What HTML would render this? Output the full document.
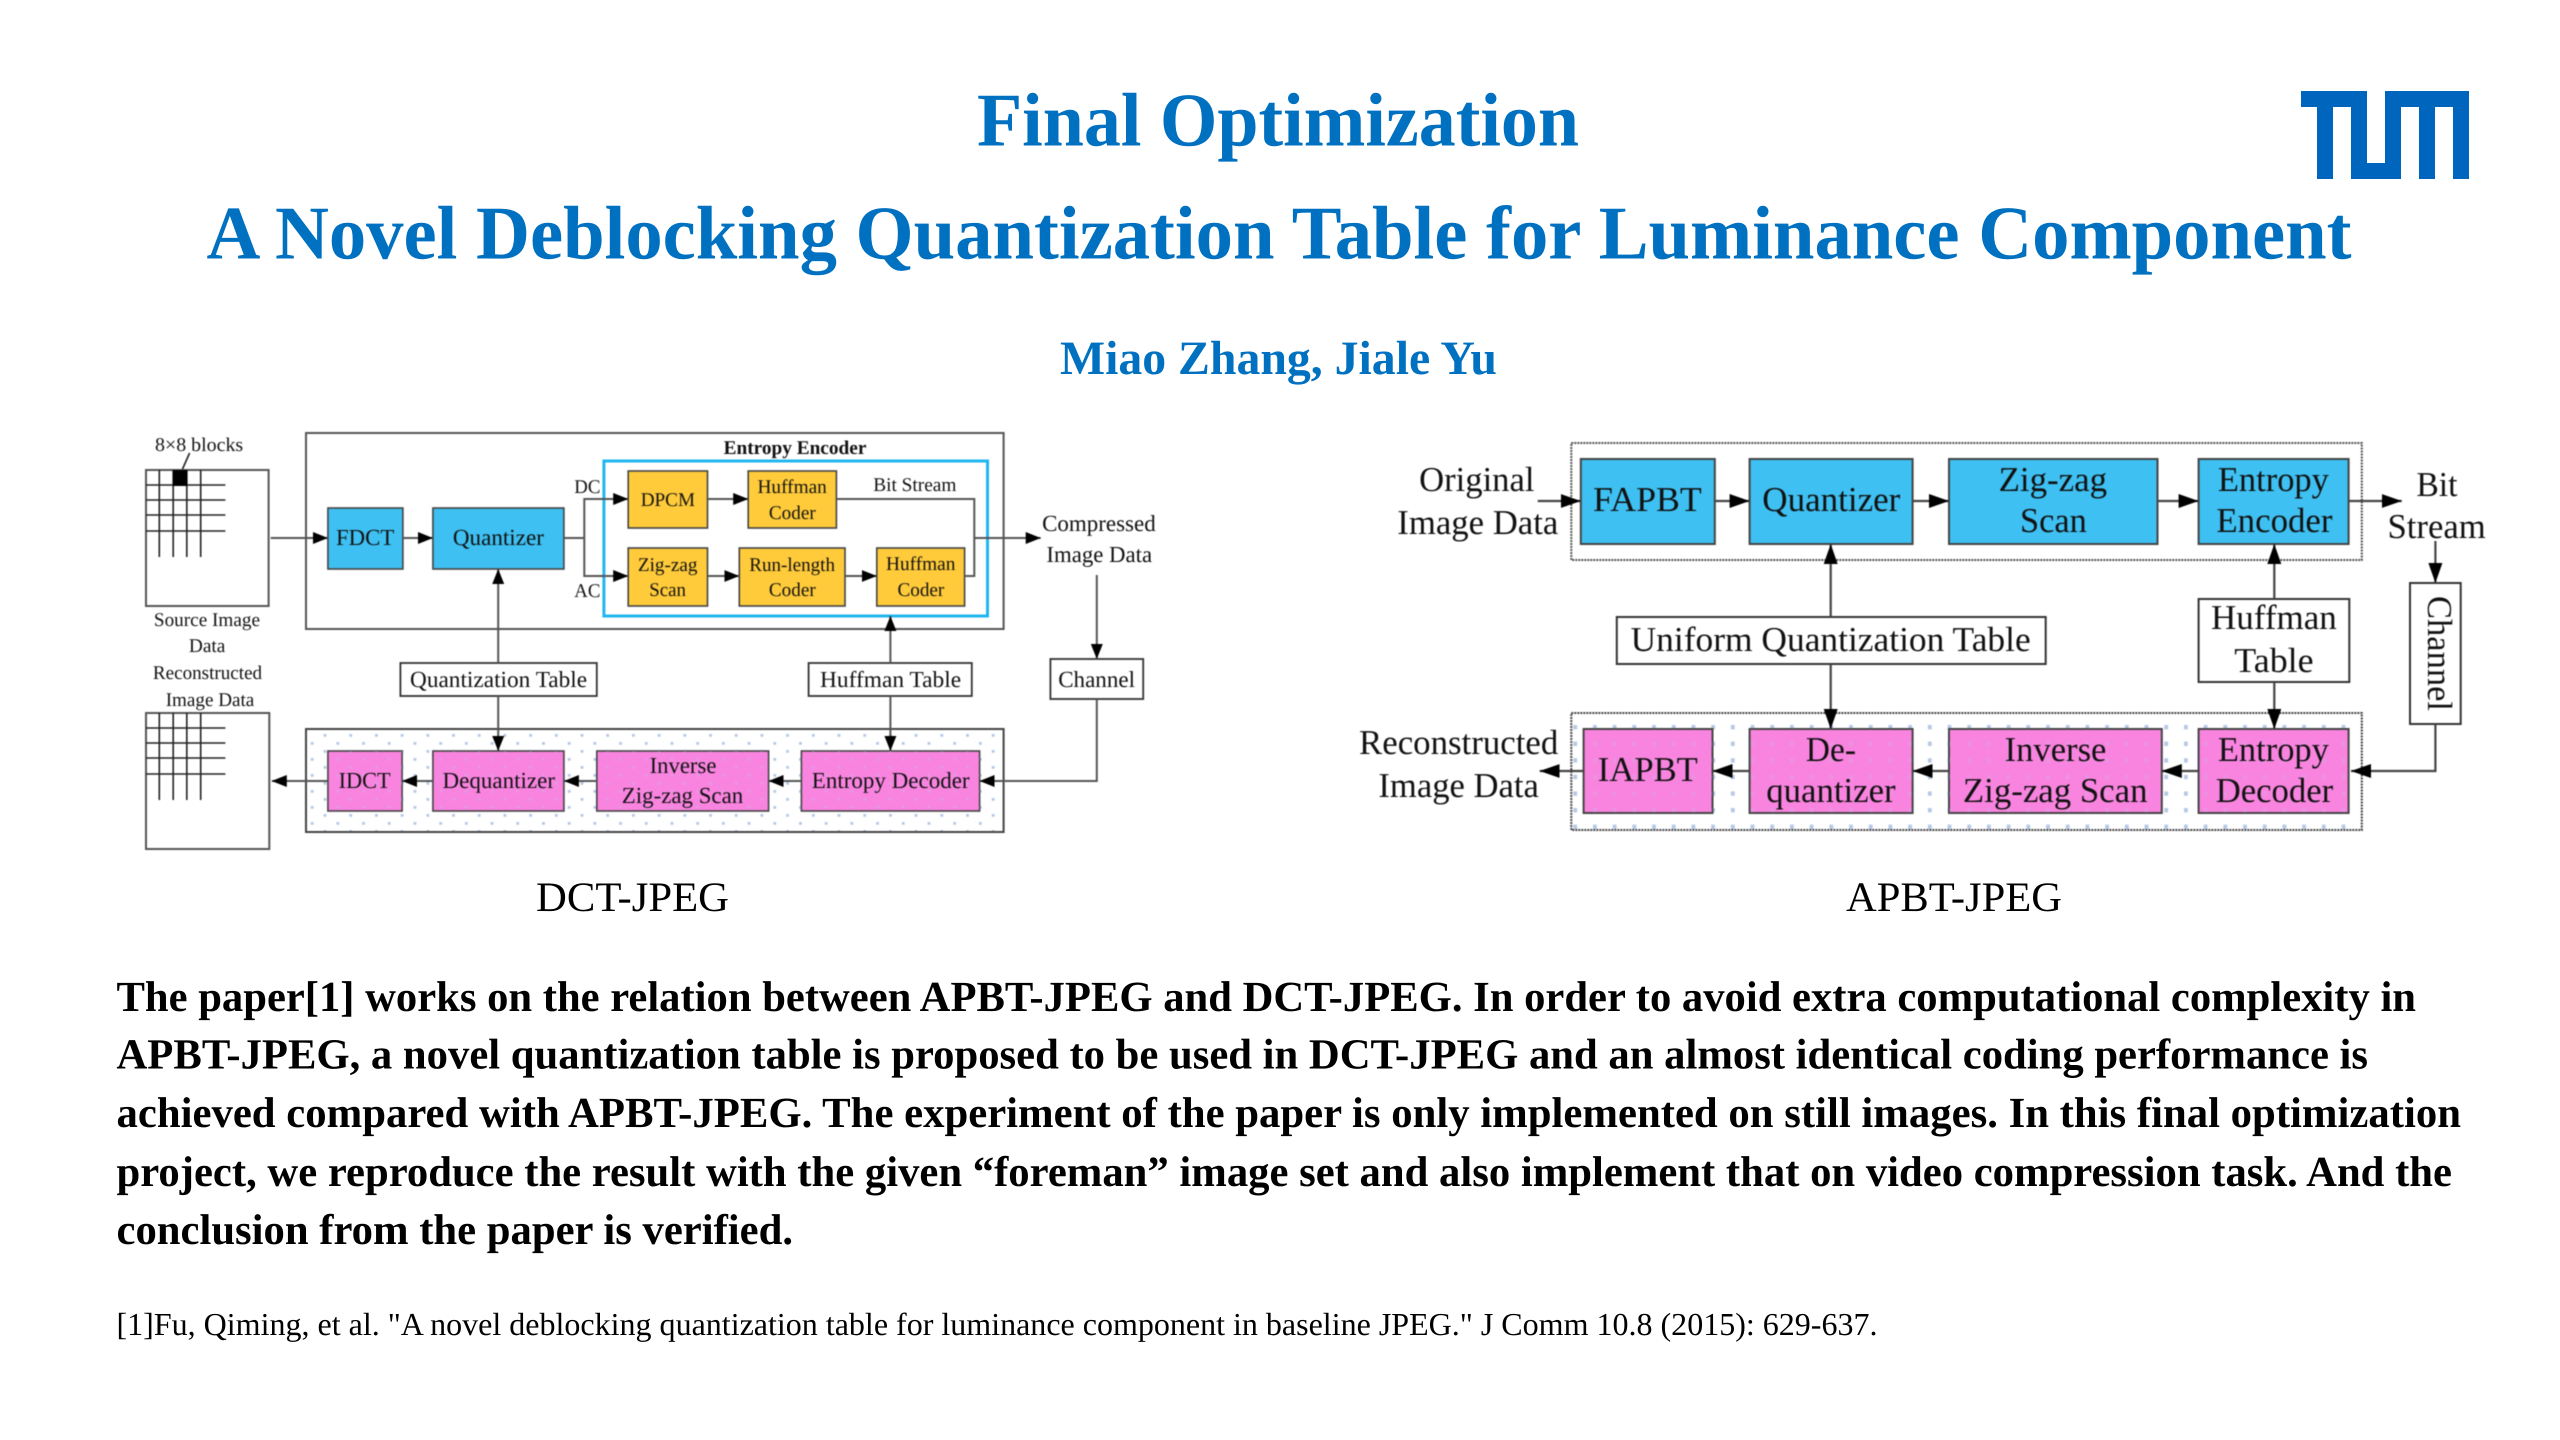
<!DOCTYPE html>
<html><head><meta charset="utf-8"><title>Final Optimization</title>
<style>
html,body{margin:0;padding:0;background:#fff;width:2560px;height:1440px;overflow:hidden}
svg{display:block}
text{font-family:"Liberation Serif",serif;fill:#111;text-rendering:geometricPrecision}
.t{fill:#0070c0;font-weight:bold}
.p{font-size:43px;font-weight:bold;fill:#000}
.d{filter:blur(.55px)}
.l text{font-size:23px}
.s text.s21{font-size:19.5px}
.r text{font-size:35px}
.lb{stroke:#444;stroke-width:1.6}
.ll{stroke:#555;stroke-width:2;fill:none}
.rl{stroke:#444;stroke-width:2.2;fill:none}
</style></head><body>
<svg width="2560" height="1440" viewBox="0 0 2560 1440" xmlns="http://www.w3.org/2000/svg">
<defs>
<marker id="a" markerUnits="userSpaceOnUse" markerWidth="15" markerHeight="13" refX="15" refY="6.5" orient="auto"><path d="M0,0.5L15,6.5L0,12.5z" fill="#000"/></marker>
<marker id="b" markerUnits="userSpaceOnUse" markerWidth="20" markerHeight="15" refX="20" refY="7.5" orient="auto"><path d="M0,0.5L20,7.5L0,14.5z" fill="#000"/></marker>
<pattern id="dl" patternUnits="userSpaceOnUse" width="25.7" height="16" patternTransform="translate(323.6,734)"><rect x="0" y="0" width="2.8" height="2.8" fill="#b6c8e6"/><rect x="12.85" y="8" width="2.8" height="2.8" fill="#b6c8e6"/></pattern>
<pattern id="dr" patternUnits="userSpaceOnUse" width="19.7" height="16.6" patternTransform="translate(1593,725)"><rect x="0" y="0" width="3.8" height="4.4" fill="#b6c8e6"/></pattern>
</defs>

<!-- Titles -->
<text class="t" x="977" y="145.500" font-size="76" textLength="602" lengthAdjust="spacingAndGlyphs">Final Optimization</text>
<text class="t" x="206.500" y="258.500" font-size="76" textLength="2145" lengthAdjust="spacingAndGlyphs">A Novel Deblocking Quantization Table for Luminance Component</text>
<text class="t" x="1060" y="374" font-size="48" textLength="437" lengthAdjust="spacingAndGlyphs">Miao Zhang, Jiale Yu</text>

<!-- TUM logo -->
<path fill="#0065bd" d="M2301,91H2367V163H2385V91H2469V179H2453V107H2435V179H2419V107H2401V179H2351V107H2333V179H2317V107H2301z"/>

<!-- Left diagram -->
<g class="d l s">
<rect x="146" y="470" width="122.600" height="136" fill="#fff" stroke="#555" stroke-width="2"/>
<rect x="146" y="713" width="123.300" height="136" fill="#fff" stroke="#555" stroke-width="2"/>
<g stroke="#222" stroke-width="1.600">
<path fill="none" d="M159.300,470V557M173.200,470V557M186.800,470V557M200.700,470V557M146,485H225.400M146,500H225.400M146,515H225.400M146,531H225.400"/>
<path fill="none" d="M159.300,713V800M173.200,713V800M186.800,713V800M200.700,713V800M146,728H225.400M146,743H225.400M146,758H225.400M146,774H225.400"/>
<path fill="none" d="M182.500,469L189.600,453"/>
</g>
<rect x="172.900" y="470" width="14.600" height="16" fill="#000"/>

<rect x="306" y="433" width="697.600" height="196" fill="#fff" stroke="#555" stroke-width="2"/>
<rect x="306" y="729" width="697.600" height="103" fill="url(#dl)" stroke="#444" stroke-width="2"/>
<rect x="603.900" y="461" width="383.600" height="155" fill="none" stroke="#1fb6ee" stroke-width="3"/>

<g class="lb" fill="#3ec0f2">
<rect x="327.900" y="508" width="75" height="61"/>
<rect x="432.900" y="508" width="131" height="61"/>
</g>
<g class="lb" fill="#ffcb3a">
<rect x="628.200" y="471" width="79.300" height="57"/>
<rect x="628.200" y="548" width="79.300" height="58"/>
<rect x="748.200" y="471" width="88.200" height="57"/>
<rect x="739.300" y="548" width="105.700" height="58"/>
<rect x="876.800" y="548" width="87.800" height="58"/>
</g>
<g class="lb" fill="#f984e0">
<rect x="327.900" y="751" width="74.200" height="60"/>
<rect x="432.900" y="751" width="131" height="60"/>
<rect x="596.800" y="751" width="171.800" height="60"/>
<rect x="801.400" y="751" width="178.200" height="60"/>
</g>
<g fill="url(#dl)" opacity=".3">
<rect x="327.900" y="751" width="74.200" height="60"/>
<rect x="432.900" y="751" width="131" height="60"/>
<rect x="596.800" y="751" width="171.800" height="60"/>
<rect x="801.400" y="751" width="178.200" height="60"/>
</g>
<g fill="#fff" stroke="#333" stroke-width="1.800">
<rect x="400.400" y="663" width="196.400" height="33"/>
<rect x="808.600" y="663" width="163.200" height="33"/>
<rect x="1050.400" y="659" width="92.800" height="40"/>
</g>

<g class="ll">
<path d="M270.700,538H327.900" marker-end="url(#a)"/>
<path d="M402.900,538H432.900" marker-end="url(#a)"/>
<path d="M563.900,538H584.300"/>
<path d="M628.200,499H584.300V576H628.200" marker-end="url(#a)"/>
<path d="M584.300,499H628.200" marker-end="url(#a)"/>
<path d="M707.500,499H748.200" marker-end="url(#a)"/>
<path d="M707.500,576H739.300" marker-end="url(#a)"/>
<path d="M845,576H876.800" marker-end="url(#a)"/>
<path d="M836.400,499H974.300V576H964.600"/>
<path d="M974.300,538H1040.700" marker-end="url(#a)"/>
<path d="M1096.800,575V659" marker-end="url(#a)"/>
<path d="M1096.800,699V781H979.600" marker-end="url(#a)"/>
<path d="M890.400,663V616" marker-end="url(#a)"/>
<path d="M890.400,696V751" marker-end="url(#a)"/>
<path d="M498.200,663V569" marker-end="url(#a)"/>
<path d="M498.200,696V751" marker-end="url(#a)"/>
<path d="M801.400,781H768.600" marker-end="url(#a)"/>
<path d="M596.800,781H563.900" marker-end="url(#a)"/>
<path d="M432.900,781H402.100" marker-end="url(#a)"/>
<path d="M327.900,781H271.800" marker-end="url(#a)"/>
</g>

<text class="s21" x="155" y="451" textLength="88.200" lengthAdjust="spacingAndGlyphs">8×8 blocks</text>
<text class="s21" x="153.900" y="626" textLength="106.100" lengthAdjust="spacingAndGlyphs">Source Image</text>
<text class="s21" x="188.900" y="652" textLength="36.500" lengthAdjust="spacingAndGlyphs">Data</text>
<text class="s21" x="152.900" y="679" textLength="109.200" lengthAdjust="spacingAndGlyphs">Reconstructed</text>
<text class="s21" x="165.700" y="706" textLength="88.600" lengthAdjust="spacingAndGlyphs">Image Data</text>
<text x="336" y="545" textLength="58.300" lengthAdjust="spacingAndGlyphs">FDCT</text>
<text x="452.900" y="545" textLength="91" lengthAdjust="spacingAndGlyphs">Quantizer</text>
<text class="s21" x="574.300" y="493" textLength="26.100" lengthAdjust="spacingAndGlyphs">DC</text>
<text class="s21" x="574.300" y="597" textLength="26.100" lengthAdjust="spacingAndGlyphs">AC</text>
<text class="s21" x="640.700" y="506" textLength="54.300" lengthAdjust="spacingAndGlyphs">DPCM</text>
<text class="s21" x="637.900" y="571" textLength="59.600" lengthAdjust="spacingAndGlyphs">Zig-zag</text>
<text class="s21" x="649.300" y="596" textLength="36.700" lengthAdjust="spacingAndGlyphs">Scan</text>
<text class="s21" x="757.500" y="493" textLength="69.300" lengthAdjust="spacingAndGlyphs">Huffman</text>
<text class="s21" x="768.900" y="519" textLength="46.800" lengthAdjust="spacingAndGlyphs">Coder</text>
<text class="s21" x="873.200" y="491" textLength="83.200" lengthAdjust="spacingAndGlyphs">Bit Stream</text>
<text class="s21" x="723.600" y="454" textLength="142.800" font-weight="bold" lengthAdjust="spacingAndGlyphs">Entropy Encoder</text>
<text class="s21" x="749.300" y="571" textLength="85.700" lengthAdjust="spacingAndGlyphs">Run-length</text>
<text class="s21" x="768.900" y="596" textLength="46.800" lengthAdjust="spacingAndGlyphs">Coder</text>
<text class="s21" x="886" y="570" textLength="69.400" lengthAdjust="spacingAndGlyphs">Huffman</text>
<text class="s21" x="897.500" y="596" textLength="46.800" lengthAdjust="spacingAndGlyphs">Coder</text>
<text class="s21" x="1042.100" y="531" textLength="113.600" lengthAdjust="spacingAndGlyphs" style="font-size:23px">Compressed</text>
<text class="s21" x="1046.400" y="562" textLength="105.700" lengthAdjust="spacingAndGlyphs" style="font-size:23px">Image Data</text>
<text x="410" y="687" textLength="177.100" lengthAdjust="spacingAndGlyphs">Quantization Table</text>
<text x="820" y="687" textLength="141.100" lengthAdjust="spacingAndGlyphs">Huffman Table</text>
<text x="1058.200" y="687" textLength="76.800" lengthAdjust="spacingAndGlyphs">Channel</text>
<text x="338.600" y="788" textLength="52.100" lengthAdjust="spacingAndGlyphs">IDCT</text>
<text x="442.500" y="788" textLength="112.500" lengthAdjust="spacingAndGlyphs">Dequantizer</text>
<text x="649.600" y="773" textLength="66.800" lengthAdjust="spacingAndGlyphs">Inverse</text>
<text x="621.800" y="803" textLength="121.400" lengthAdjust="spacingAndGlyphs">Zig-zag Scan</text>
<text x="811.800" y="788" textLength="157.800" lengthAdjust="spacingAndGlyphs">Entropy Decoder</text>
</g>

<!-- Right diagram -->
<g class="d r">
<rect x="1571.300" y="443" width="790.500" height="117" fill="#fff" stroke="#555" stroke-width="2" stroke-dasharray="2 1"/>
<rect x="1571.300" y="713" width="790.500" height="117" fill="url(#dr)" stroke="#444" stroke-width="2" stroke-dasharray="2 1"/>
<g class="lb" fill="#3ec0f2" style="stroke-width:2">
<rect x="1580.800" y="459" width="134" height="85"/>
<rect x="1749.600" y="459" width="163" height="85"/>
<rect x="1949" y="459" width="208.500" height="85"/>
<rect x="2198.600" y="459" width="150" height="85"/>
</g>
<g class="lb" fill="#f984e0" style="stroke-width:2">
<rect x="1583.600" y="729" width="128.900" height="84"/>
<rect x="1749.600" y="729" width="163" height="84"/>
<rect x="1949" y="729" width="212.800" height="84"/>
<rect x="2198.600" y="729" width="150" height="84"/>
</g>
<g fill="url(#dr)" opacity=".2">
<rect x="1583.600" y="729" width="128.900" height="84"/>
<rect x="1749.600" y="729" width="163" height="84"/>
<rect x="1949" y="729" width="212.800" height="84"/>
<rect x="2198.600" y="729" width="150" height="84"/>
</g>
<g fill="#fff" stroke="#333" stroke-width="2">
<rect x="1616.800" y="617" width="428.900" height="47"/>
<rect x="2198.600" y="599" width="150.700" height="83"/>
<rect x="2410" y="583" width="50.700" height="141"/>
</g>
<g class="rl">
<path d="M1537.700,501H1580.800" marker-end="url(#b)"/>
<path d="M1714.800,501H1749.600" marker-end="url(#b)"/>
<path d="M1912.600,501H1949" marker-end="url(#b)"/>
<path d="M2157.500,501H2198.600" marker-end="url(#b)"/>
<path d="M2348.600,501H2401.800" marker-end="url(#b)"/>
<path d="M1830.700,617V544" marker-end="url(#b)"/>
<path d="M1830.700,664V729" marker-end="url(#b)"/>
<path d="M2274.300,599V544" marker-end="url(#b)"/>
<path d="M2274.300,682V729" marker-end="url(#b)"/>
<path d="M2435.400,541V583" marker-end="url(#b)"/>
<path d="M2435.400,724V771H2351" marker-end="url(#b)"/>
<path d="M2198.600,771H2161.800" marker-end="url(#b)"/>
<path d="M1949,771H1912.600" marker-end="url(#b)"/>
<path d="M1749.600,771H1712.500" marker-end="url(#b)"/>
<path d="M1583.600,771H1539.700" marker-end="url(#b)"/>
</g>
<text x="1419.100" y="491" textLength="115.400" lengthAdjust="spacingAndGlyphs">Original</text>
<text x="1397.300" y="534" textLength="161" lengthAdjust="spacingAndGlyphs">Image Data</text>
<text x="1593" y="511" textLength="108.800" lengthAdjust="spacingAndGlyphs">FAPBT</text>
<text x="1762.300" y="511" textLength="138" lengthAdjust="spacingAndGlyphs">Quantizer</text>
<text x="1998.600" y="491" textLength="108.500" lengthAdjust="spacingAndGlyphs">Zig-zag</text>
<text x="2020" y="532" textLength="66.800" lengthAdjust="spacingAndGlyphs">Scan</text>
<text x="2217.900" y="491" textLength="111" lengthAdjust="spacingAndGlyphs">Entropy</text>
<text x="2216.400" y="532" textLength="116.100" lengthAdjust="spacingAndGlyphs">Encoder</text>
<text x="2416.400" y="496" textLength="41.100" lengthAdjust="spacingAndGlyphs">Bit</text>
<text x="2387.500" y="538" textLength="98.200" lengthAdjust="spacingAndGlyphs">Stream</text>
<text x="1630.600" y="651" textLength="400.100" lengthAdjust="spacingAndGlyphs">Uniform Quantization Table</text>
<text x="2211" y="629" textLength="125.800" lengthAdjust="spacingAndGlyphs">Huffman</text>
<text x="2234.300" y="672" textLength="79.300" lengthAdjust="spacingAndGlyphs">Table</text>
<text transform="translate(2427.900,596) rotate(90)" textLength="115" lengthAdjust="spacingAndGlyphs">Channel</text>
<text x="1359" y="754" textLength="199.300" lengthAdjust="spacingAndGlyphs">Reconstructed</text>
<text x="1378.400" y="797" textLength="160.500" lengthAdjust="spacingAndGlyphs">Image Data</text>
<text x="1597.800" y="781" textLength="100" lengthAdjust="spacingAndGlyphs">IAPBT</text>
<text x="1805.800" y="761" textLength="50.200" lengthAdjust="spacingAndGlyphs">De-</text>
<text x="1766.300" y="802" textLength="129.300" lengthAdjust="spacingAndGlyphs">quantizer</text>
<text x="2004.600" y="761" textLength="101.800" lengthAdjust="spacingAndGlyphs">Inverse</text>
<text x="1962.900" y="802" textLength="184.600" lengthAdjust="spacingAndGlyphs">Zig-zag Scan</text>
<text x="2217.900" y="761" textLength="111" lengthAdjust="spacingAndGlyphs">Entropy</text>
<text x="2215.700" y="802" textLength="117.500" lengthAdjust="spacingAndGlyphs">Decoder</text>
</g>

<!-- Captions -->
<text x="536" y="911" font-size="42" style="fill:#000" textLength="193" lengthAdjust="spacingAndGlyphs">DCT-JPEG</text>
<text x="1846" y="911" font-size="42" style="fill:#000" textLength="216" lengthAdjust="spacingAndGlyphs">APBT-JPEG</text>

<!-- Paragraph -->
<text class="p" x="116.500" y="1011" textLength="2299.500" lengthAdjust="spacingAndGlyphs">The paper[1] works on the relation between APBT-JPEG and DCT-JPEG. In order to avoid extra computational complexity in</text>
<text class="p" x="116.500" y="1068.500" textLength="2251.500" lengthAdjust="spacingAndGlyphs">APBT-JPEG, a novel quantization table is proposed to be used in DCT-JPEG and an almost identical coding performance is</text>
<text class="p" x="116.500" y="1127" textLength="2344.500" lengthAdjust="spacingAndGlyphs">achieved compared with APBT-JPEG. The experiment of the paper is only implemented on still images. In this final optimization</text>
<text class="p" x="116.500" y="1186" textLength="2335.500" lengthAdjust="spacingAndGlyphs">project, we reproduce the result with the given “foreman” image set and also implement that on video compression task. And the</text>
<text class="p" x="116.500" y="1244" textLength="676.500" lengthAdjust="spacingAndGlyphs">conclusion from the paper is verified.</text>

<text x="116.500" y="1335" font-size="32" style="fill:#000" textLength="1761" lengthAdjust="spacingAndGlyphs">[1]Fu, Qiming, et al. "A novel deblocking quantization table for luminance component in baseline JPEG." J Comm 10.8 (2015): 629-637.</text>
</svg>
</body></html>
